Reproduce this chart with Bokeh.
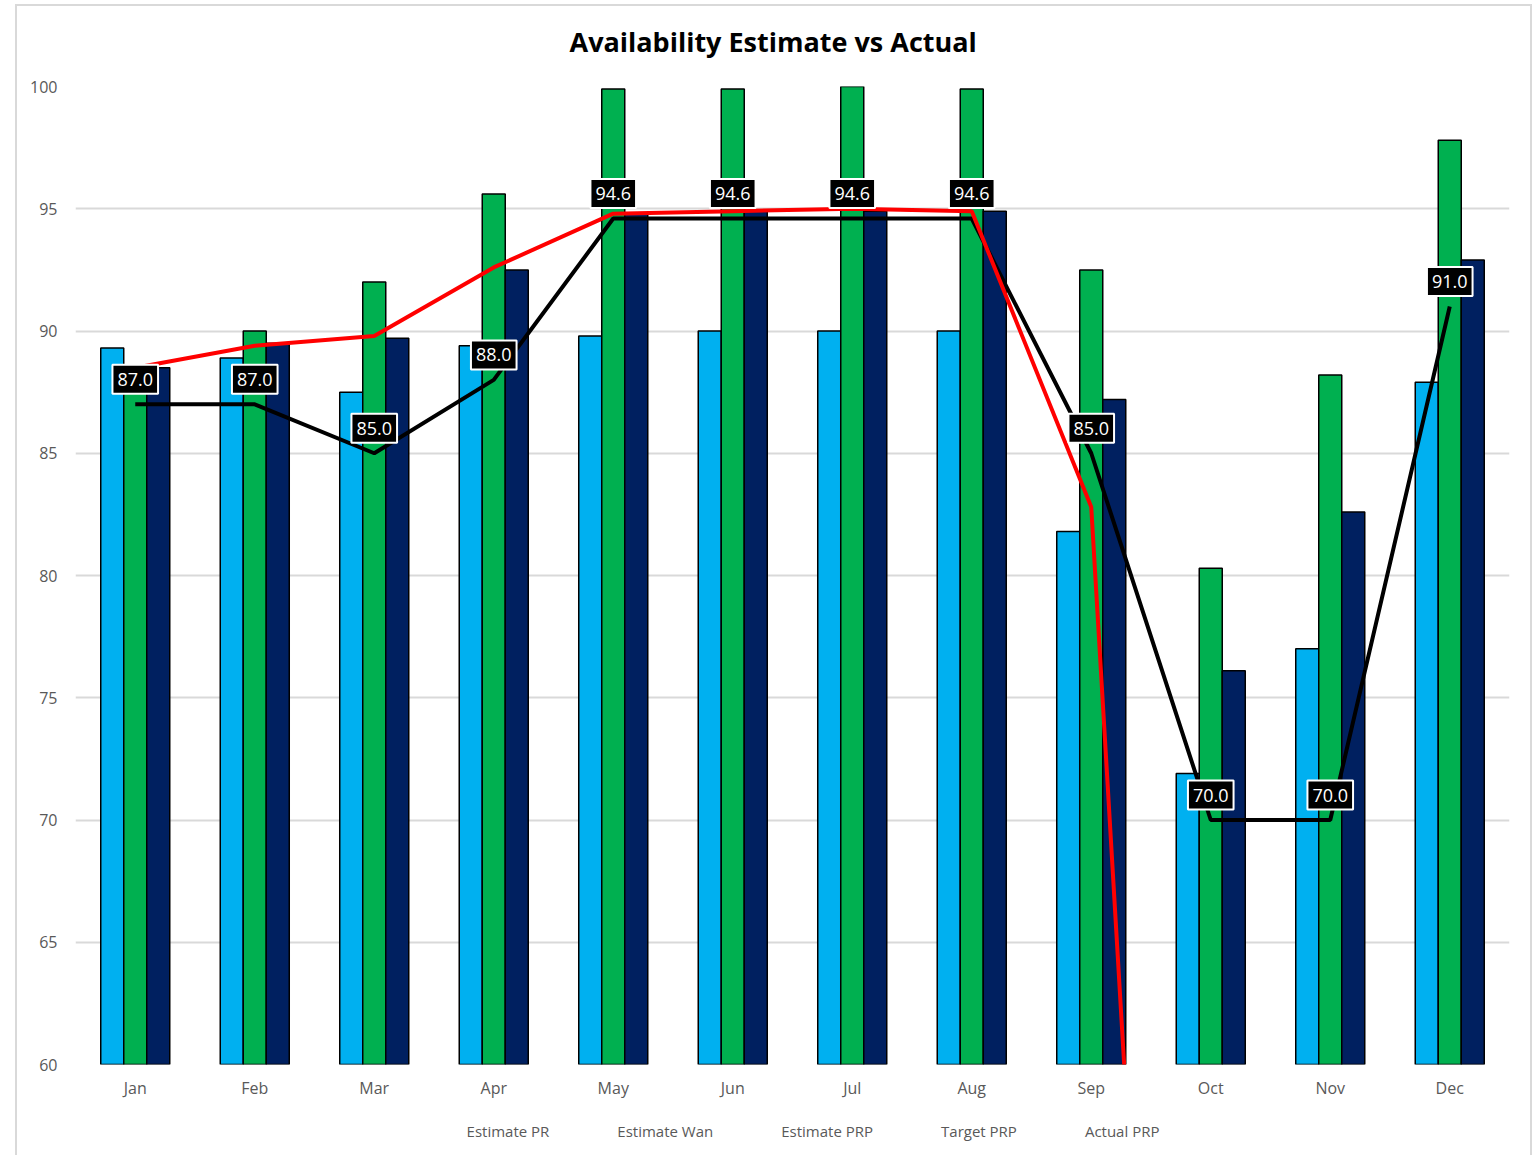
from bokeh.plotting import figure
from bokeh.layouts import column
from bokeh.models import (ColumnDataSource, FactorRange, Range1d, Legend, LegendItem,
                          FixedTicker, Title)
from bokeh.core.properties import value
from bokeh.transform import dodge
from bokeh.embed import file_html
from bokeh.resources import INLINE

months = ["Jan", "Feb", "Mar", "Apr", "May", "Jun", "Jul", "Aug", "Sep", "Oct", "Nov", "Dec"]
estimate_pr = [89.3, 88.9, 87.5, 89.4, 89.8, 90.0, 90.0, 90.0, 81.8, 71.9, 77.0, 87.9]
estimate_wan = [87.8, 90.0, 92.0, 95.6, 99.9, 99.9, 100.0, 99.9, 92.5, 80.3, 88.2, 97.8]
estimate_prp = [88.5, 89.5, 89.7, 92.5, 94.8, 94.9, 94.9, 94.9, 87.2, 76.1, 82.6, 92.9]
target_prp = [87.0, 87.0, 85.0, 88.0, 94.6, 94.6, 94.6, 94.6, 85.0, 70.0, 70.0, 91.0]
actual_prp = [88.5, 89.4, 89.8, 92.6, 94.8, 94.9, 95.0, 94.9, 82.8, 0.0, 0.0, 0.0]
series_names = ["Estimate PR", "Estimate Wan", "Estimate PRP", "Target PRP", "Actual PRP"]

FONT = "Open Sans"
GREY = "#595959"
C_PR, C_WAN, C_PRP = "#00B0F0", "#00B050", "#002060"

src = ColumnDataSource(dict(
    month=months,
    pr=estimate_pr,
    wan=estimate_wan,
    prp=estimate_prp,
    target=target_prp,
    actual=actual_prp,
    target_label=[f"{v:.1f}" for v in target_prp],
))

p = figure(
    frame_width=1434, frame_height=978,
    x_range=FactorRange(*months, range_padding=0),
    y_range=Range1d(60, 100),
    output_backend="svg", toolbar_location=None,
    title="Availability Estimate vs Actual",
    min_border_left=58, min_border_right=21, min_border_top=80, min_border_bottom=36,
)
p.outline_line_color = None
p.background_fill_color = "white"
p.border_fill_color = "white"

# blank strip between the title and the plot area
p.add_layout(Title(text=" ", text_font_size="1px", standoff=24), "above")

p.title.align = "left"
p.title.offset = 494
p.title.text_font = FONT
p.title.text_font_size = "27px"
p.title.text_font_style = "bold"
p.title.text_color = "black"
p.title.standoff = 0

bw = 0.1925
p.vbar(x=dodge("month", -bw, range=p.x_range), top="pr", bottom=60, width=bw,
       source=src, fill_color=C_PR, line_color="black", line_width=1.5)
p.vbar(x=dodge("month", 0, range=p.x_range), top="wan", bottom=60, width=bw,
       source=src, fill_color=C_WAN, line_color="black", line_width=1.5)
p.vbar(x=dodge("month", bw, range=p.x_range), top="prp", bottom=60, width=bw,
       source=src, fill_color=C_PRP, line_color="black", line_width=1.5)
p.line(x="month", y="target", source=src, line_color="black", line_width=4)
p.line(x="month", y="actual", source=src, line_color="#FF0000", line_width=4)

# value boxes for the target series
p.text(x="month", y="target", text="target_label", source=src,
       y_offset=-25, text_align="center", text_baseline="middle",
       text_font=value(FONT), text_font_size="18px", text_color="white",
       background_fill_color="black", border_line_color="white",
       border_line_width=2, padding=(5, 8))

p.yaxis.ticker = FixedTicker(ticks=[60, 65, 70, 75, 80, 85, 90, 95, 100])
p.ygrid.grid_line_color = "#d9d9d9"
p.ygrid.grid_line_width = 2
p.xgrid.grid_line_color = None
for ax in (p.xaxis, p.yaxis):
    ax.axis_line_color = None
    ax.major_tick_line_color = None
    ax.minor_tick_line_color = None
    ax.major_label_text_font = FONT
    ax.major_label_text_font_size = "16px"
    ax.major_label_text_color = GREY
p.yaxis.major_label_standoff = 12
p.xaxis.major_label_standoff = 6

# legend strip under the chart: empty renderers styled like the series
lg = figure(width=1513, height=60, x_range=Range1d(0, 1), y_range=Range1d(0, 1),
            output_backend="svg", toolbar_location=None,
            x_axis_type=None, y_axis_type=None,
            min_border_left=0, min_border_right=0, min_border_top=0, min_border_bottom=0)
lg.outline_line_color = None
lg.xgrid.grid_line_color = None
lg.ygrid.grid_line_color = None
lg.border_fill_color = "white"
empty = dict(x=[], y=[])
r_pr = lg.vbar(x=[], top=[], width=0.1, fill_color=C_PR, line_color="black", line_width=1.5)
r_wan = lg.vbar(x=[], top=[], width=0.1, fill_color=C_WAN, line_color="black", line_width=1.5)
r_prp = lg.vbar(x=[], top=[], width=0.1, fill_color=C_PRP, line_color="black", line_width=1.5)
r_tgt = lg.line(x=[], y=[], line_color="black", line_width=4)
r_act = lg.line(x=[], y=[], line_color="#FF0000", line_width=4)

legend = Legend(items=[
    LegendItem(label=name, renderers=[r])
    for name, r in zip(series_names, [r_pr, r_wan, r_prp, r_tgt, r_act])
], orientation="horizontal", location="center")
legend.label_text_font = FONT
legend.label_text_font_size = "15px"
legend.label_text_color = GREY
legend.glyph_width = 40
legend.glyph_height = 12
legend.label_standoff = 2
legend.spacing = 26
legend.border_line_color = None
legend.background_fill_alpha = 0
legend.padding = 4
legend.margin = 0
lg.add_layout(legend, "center")

page = column(p, lg, margin=(4, 0, 0, 15), styles={"border": "2px solid #d9d9d9"})

open("out.html", "w").write(file_html(page, INLINE))
